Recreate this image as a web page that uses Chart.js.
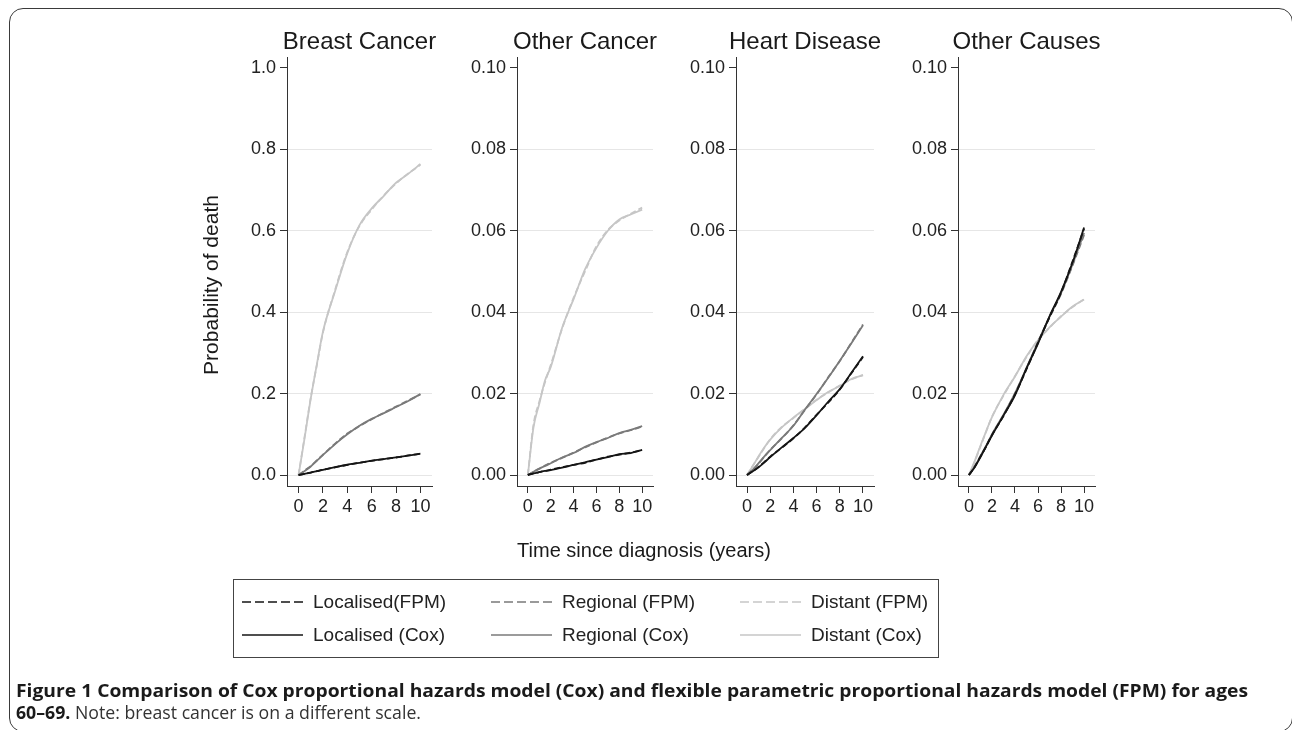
<!DOCTYPE html>
<html><head><meta charset="utf-8">
<script src="https://cdn.jsdelivr.net/npm/chart.js@4.4.1/dist/chart.umd.min.js"></script>
<style>
html,body{margin:0;padding:0;background:#fff;}
body{width:1292px;height:730px;position:relative;overflow:hidden;font-family:'Liberation Sans',Arial,sans-serif;}
canvas.panel{position:absolute;left:0;top:0;}
#frame{position:absolute;left:9px;top:8px;width:1284px;height:724px;border:1.5px solid #3a3a3a;border-radius:14px;box-sizing:border-box;}
#legendBox{position:absolute;left:233px;top:579px;width:706px;height:79px;border:1px solid #444;box-sizing:border-box;}
.lt{position:absolute;font-size:19px;color:#222;line-height:20px;white-space:nowrap;}
.cap{position:absolute;left:16px;white-space:nowrap;transform-origin:0 0;font-family:'Open Sans','Noto Sans',sans-serif;font-size:18px;line-height:22px;color:#333;}
.cap b{color:#1a1a1a;font-weight:700;}
</style></head><body>
<div id="frame"></div>
<canvas id="c0" class="panel" width="1292" height="730"></canvas>
<canvas id="c1" class="panel" width="1292" height="730"></canvas>
<canvas id="c2" class="panel" width="1292" height="730"></canvas>
<canvas id="c3" class="panel" width="1292" height="730"></canvas>
<div id="legendBox"></div>
<svg id="legSvg" style="position:absolute;left:0;top:0" width="1292" height="730"></svg>
<div id="legText"></div>
<div class="cap" id="cap1" style="top:679px"><b>Figure 1 Comparison of Cox proportional hazards model (Cox) and flexible parametric proportional hazards model (FPM) for ages</b></div>
<div class="cap" id="cap2" style="top:701px"><b>60–69.</b> Note: breast cancer is on a different scale.</div>
<script>
// ---------- data ----------
const panelTitles = ['Breast Cancer', 'Other Cancer', 'Heart Disease', 'Other Causes'];
const years = [0, 0.5, 1, 1.5, 2, 3, 4, 5, 6, 7, 8, 9, 10];
const xTicks = [0, 2, 4, 6, 8, 10];
const yTicksBreast = [0, 0.2, 0.4, 0.6, 0.8, 1.0];
const yTicksOther = [0, 0.02, 0.04, 0.06, 0.08, 0.10];
const yLabelsBreast = ['0.0', '0.2', '0.4', '0.6', '0.8', '1.0'];
const yLabelsOther = ['0.00', '0.02', '0.04', '0.06', '0.08', '0.10'];
const seriesLabels = ['Localised(FPM)', 'Regional (FPM)', 'Distant (FPM)', 'Localised (Cox)', 'Regional (Cox)', 'Distant (Cox)'];
const xTitle = 'Time since diagnosis (years)';
const yTitle = 'Probability of death';

// Breast cancer
const breastLocFPM = [0, 0.003, 0.006, 0.0095, 0.013, 0.019, 0.025, 0.030, 0.035, 0.039, 0.043, 0.048, 0.052];
const breastLocCox = [0, 0.003, 0.006, 0.0093, 0.0128, 0.0192, 0.0252, 0.0298, 0.0352, 0.0392, 0.0433, 0.0478, 0.0525];
const breastRegFPM = [0, 0.011, 0.022, 0.036, 0.050, 0.077, 0.102, 0.120, 0.137, 0.153, 0.168, 0.183, 0.198];
const breastRegCox = [0, 0.010, 0.021, 0.035, 0.049, 0.076, 0.100, 0.121, 0.138, 0.152, 0.167, 0.182, 0.199];
const breastDisFPM = [0, 0.095, 0.19, 0.27, 0.35, 0.455, 0.548, 0.612, 0.652, 0.687, 0.716, 0.741, 0.762];
const breastDisCox = [0, 0.092, 0.188, 0.272, 0.352, 0.452, 0.545, 0.614, 0.655, 0.686, 0.718, 0.740, 0.764];
// Other cancer
const otherCaLocFPM = [0, 0.0004, 0.0007, 0.0010, 0.0013, 0.0019, 0.0025, 0.0030, 0.0038, 0.0045, 0.0050, 0.0055, 0.0061];
const otherCaLocCox = [0, 0.0004, 0.0007, 0.0010, 0.0012, 0.0018, 0.0025, 0.0031, 0.0038, 0.0044, 0.0051, 0.0054, 0.0062];
const otherCaRegFPM = [0, 0.0008, 0.0015, 0.0023, 0.0030, 0.0042, 0.0055, 0.0068, 0.0080, 0.0092, 0.0102, 0.0110, 0.0119];
const otherCaRegCox = [0, 0.0008, 0.0016, 0.0022, 0.0029, 0.0043, 0.0054, 0.0069, 0.0081, 0.0091, 0.0103, 0.0111, 0.0120];
const otherCaDisFPM = [0, 0.0125, 0.0180, 0.0228, 0.0270, 0.0360, 0.0435, 0.0500, 0.0562, 0.0602, 0.0625, 0.0642, 0.0657];
const otherCaDisCox = [0, 0.0118, 0.0175, 0.0232, 0.0265, 0.0362, 0.0432, 0.0505, 0.0558, 0.0600, 0.0628, 0.0640, 0.0652];
// Heart disease
const heartLocFPM = [0, 0.0009, 0.0020, 0.0032, 0.0045, 0.0067, 0.0090, 0.0117, 0.0148, 0.0178, 0.0210, 0.0250, 0.0290];
const heartLocCox = [0, 0.0009, 0.0019, 0.0031, 0.0044, 0.0068, 0.0091, 0.0116, 0.0147, 0.0180, 0.0211, 0.0251, 0.0292];
const heartRegFPM = [0, 0.0013, 0.0028, 0.0045, 0.0062, 0.0090, 0.0122, 0.0160, 0.0198, 0.0240, 0.0280, 0.0325, 0.0370];
const heartRegCox = [0, 0.0013, 0.0029, 0.0046, 0.0061, 0.0091, 0.0121, 0.0161, 0.0199, 0.0239, 0.0281, 0.0324, 0.0368];
const heartDisFPM = [0, 0.0023, 0.0045, 0.0067, 0.0088, 0.0118, 0.0140, 0.0163, 0.0185, 0.0203, 0.0220, 0.0235, 0.0246];
const heartDisCox = [0, 0.0022, 0.0046, 0.0068, 0.0087, 0.0117, 0.0141, 0.0162, 0.0184, 0.0204, 0.0219, 0.0236, 0.0245];
// Other causes
const otherCoLocFPM = [0, 0.0020, 0.0045, 0.0070, 0.0098, 0.0145, 0.0198, 0.0260, 0.0325, 0.0388, 0.0448, 0.0525, 0.0605];
const otherCoLocCox = [0, 0.0019, 0.0044, 0.0071, 0.0097, 0.0146, 0.0196, 0.0262, 0.0323, 0.0390, 0.0450, 0.0522, 0.0608];
const otherCoRegFPM = [0, 0.0021, 0.0046, 0.0071, 0.0099, 0.0147, 0.0200, 0.0262, 0.0326, 0.0387, 0.0445, 0.0515, 0.0590];
const otherCoRegCox = [0, 0.0021, 0.0047, 0.0072, 0.0100, 0.0148, 0.0201, 0.0263, 0.0327, 0.0389, 0.0447, 0.0518, 0.0595];
const otherCoDisFPM = [0, 0.0033, 0.0070, 0.0107, 0.0143, 0.0195, 0.0243, 0.0290, 0.0332, 0.0362, 0.0390, 0.0413, 0.0432];
const otherCoDisCox = [0, 0.0034, 0.0072, 0.0108, 0.0142, 0.0197, 0.0242, 0.0292, 0.0331, 0.0363, 0.0389, 0.0414, 0.0431];

// ---------- styling ----------
const colLoc = '#151515', colReg = '#7a7a7a', colDis = '#c6c6c6';
const panelAreas = [[287, 432], [517, 653], [736, 874], [958, 1095]];
const areaTop = 57, areaBottom = 486, W = 1292, H = 730;
const Y_W = 60, X_H = 40;

Chart.defaults.font.family = "'Liberation Sans', Arial, Helvetica, sans-serif";
Chart.defaults.color = '#222';

const textPlugin = {
  id: 'texts',
  afterDraw(chart, args, opts) {
    const ctx = chart.ctx, a = chart.chartArea;
    (opts.items || []).forEach(t => {
      ctx.save();
      ctx.font = t.font; ctx.fillStyle = t.color || '#222';
      ctx.textAlign = 'center'; ctx.textBaseline = 'alphabetic';
      const x = t.x === 'center' ? (a.left + a.right) / 2 : t.x;
      ctx.translate(x, t.y);
      if (t.rot) ctx.rotate(t.rot);
      ctx.fillText(t.text, 0, 0);
      ctx.restore();
    });
  }
};

function pts(arr) { return years.map((x, i) => ({x: x, y: arr[i]})); }
function ds(label, arr, color, dashed) {
  return {label, data: pts(arr), borderColor: color, borderWidth: 1.8, pointRadius: 0,
    borderDash: dashed ? [6, 3] : [], cubicInterpolationMode: 'monotone', fill: false};
}

const panelSeries = [
  [breastLocFPM, breastLocCox, breastRegFPM, breastRegCox, breastDisFPM, breastDisCox],
  [otherCaLocFPM, otherCaLocCox, otherCaRegFPM, otherCaRegCox, otherCaDisFPM, otherCaDisCox],
  [heartLocFPM, heartLocCox, heartRegFPM, heartRegCox, heartDisFPM, heartDisCox],
  [otherCoLocFPM, otherCoLocCox, otherCoRegFPM, otherCoRegCox, otherCoDisFPM, otherCoDisCox]
];

panelTitles.forEach((title, p) => {
  const s = panelSeries[p];
  const big = p === 0;
  const yT = big ? yTicksBreast : yTicksOther;
  const yL = big ? yLabelsBreast : yLabelsOther;
  const top = big ? 1.0 : 0.10;
  const pad = top * 0.027;
  const items = [{text: title, x: 'center', y: 49, font: '24px "Liberation Sans", Arial, sans-serif', color: '#1a1a1a'}];
  if (p === 0) {
    items.push({text: xTitle, x: 644, y: 557, font: '20px "Liberation Sans", Arial, sans-serif', color: '#1a1a1a'});
    items.push({text: yTitle, x: 218, y: 285, rot: -Math.PI / 2, font: '21px "Liberation Sans", Arial, sans-serif', color: '#1a1a1a'});
  }
  new Chart(document.getElementById('c' + p), {
    type: 'line',
    data: {datasets: [
      ds(seriesLabels[0], s[0], colLoc, true), ds(seriesLabels[3], s[1], colLoc, false),
      ds(seriesLabels[1], s[2], colReg, true), ds(seriesLabels[4], s[3], colReg, false),
      ds(seriesLabels[2], s[4], colDis, true), ds(seriesLabels[5], s[5], colDis, false)
    ]},
    plugins: [textPlugin],
    options: {
      responsive: false, animation: false, devicePixelRatio: 1,
      layout: {padding: {left: panelAreas[p][0] - Y_W, right: W - panelAreas[p][1], top: areaTop, bottom: H - areaBottom - X_H}},
      plugins: {legend: {display: false}, tooltip: {enabled: false}, title: {display: false}, texts: {items}},
      scales: {
        x: {type: 'linear', min: -0.95, max: 10.95,
          afterFit(sc) { sc.height = X_H; },
          afterBuildTicks(sc) { sc.ticks = xTicks.map(v => ({value: v})); },
          border: {display: true, color: '#333', width: 1},
          grid: {drawOnChartArea: false, drawTicks: true, tickLength: 7, tickColor: '#333'},
          ticks: {font: {size: 18}, color: '#222', padding: 3, maxRotation: 0, callback: v => String(v)}
        },
        y: {type: 'linear', min: -pad, max: top + pad,
          afterFit(sc) { sc.width = Y_W; },
          afterBuildTicks(sc) { sc.ticks = yT.map(v => ({value: v})); },
          border: {display: true, color: '#333', width: 1},
          grid: {drawTicks: true, tickLength: 7, tickColor: '#333',
            color: c => (c.tick && Math.abs(c.tick.value - top) < 1e-9) ? 'rgba(0,0,0,0)' : '#e6e6e6'},
          ticks: {font: {size: 18}, color: '#222', padding: 4,
            callback: (v) => { const i = yT.findIndex(t => Math.abs(t - v) < 1e-9); return i >= 0 ? yL[i] : ''; }}
        }
      }
    }
  });
});

// ---------- legend ----------
const legCols = [[242, 303, 313], [491, 552, 562], [740, 801, 811]];
const legRows = [602, 635];
const legColors = [colLoc, colReg, colDis];
const svg = document.getElementById('legSvg');
const lt = document.getElementById('legText');
seriesLabels.forEach((lab, i) => {
  const r = i < 3 ? 0 : 1, c = i % 3;
  const [x1, x2, tx] = legCols[c];
  const y = legRows[r];
  const ln = document.createElementNS('http://www.w3.org/2000/svg', 'line');
  ln.setAttribute('x1', x1); ln.setAttribute('x2', x2);
  ln.setAttribute('y1', y); ln.setAttribute('y2', y);
  ln.setAttribute('stroke', legColors[c]); ln.setAttribute('stroke-width', '1.6');
  if (r === 0) ln.setAttribute('stroke-dasharray', '9 4');
  svg.appendChild(ln);
  const d = document.createElement('div');
  d.className = 'lt'; d.textContent = lab;
  d.style.left = tx + 'px'; d.style.top = (y - 10) + 'px';
  lt.appendChild(d);
});

// ---------- caption width fit ----------
function fit(id, target) {
  const el = document.getElementById(id);
  el.style.display = 'inline-block';
  const w = el.getBoundingClientRect().width;
  el.style.transform = 'scaleX(' + (target / w) + ')';
}
fit('cap1', 1232);
fit('cap2', 405);
</script>
</body></html>
